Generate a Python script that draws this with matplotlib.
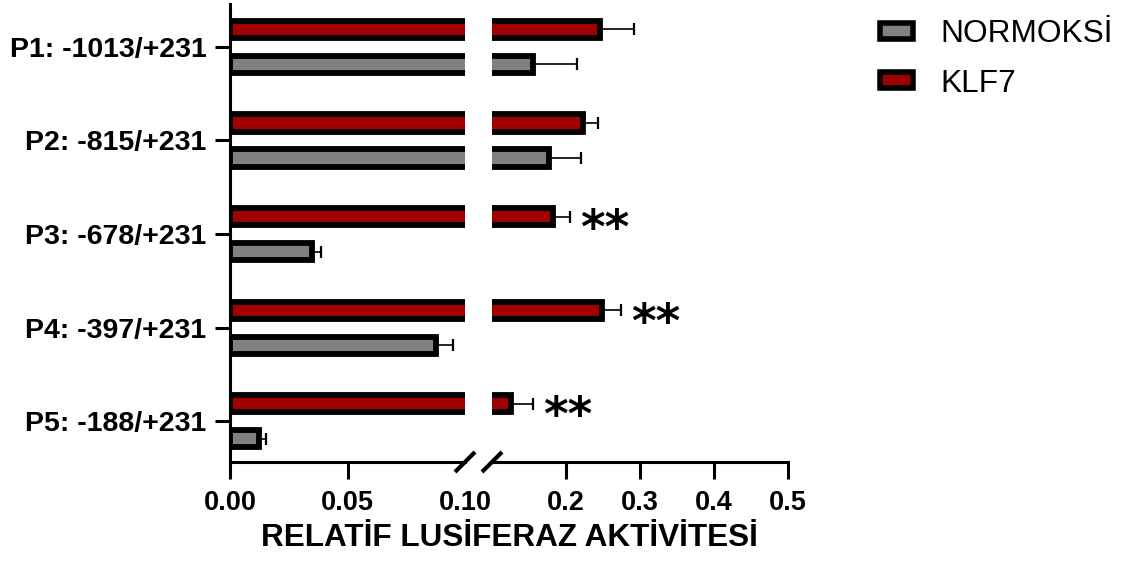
import matplotlib
matplotlib.use('Agg')
import matplotlib.pyplot as plt
from matplotlib.patches import Patch
import numpy as np

plt.rcParams['font.family'] = ['Liberation Sans', 'DejaVu Sans']

# ---------------- data ----------------
categories = ['P1: -1013/+231', 'P2: -815/+231', 'P3: -678/+231',
              'P4: -397/+231', 'P5: -188/+231']
normoksi = [0.155, 0.177, 0.0349, 0.0877, 0.0122]
normoksi_err = [0.060, 0.043, 0.004, 0.0072, 0.003]
klf7 = [0.246, 0.223, 0.182, 0.249, 0.126]
klf7_err = [0.046, 0.020, 0.023, 0.025, 0.029]
significance = ['', '', '**', '**', '**']
left_ticks = [0.00, 0.05, 0.10]
left_ticklabels = ['0.00', '0.05', '0.10']
right_ticks = [0.2, 0.3, 0.4, 0.5]
right_ticklabels = ['0.2', '0.3', '0.4', '0.5']
series_labels = ['NORMOKSİ', 'KLF7']
xlabel = 'RELATİF LUSİFERAZ AKTİVİTESİ'

# ---------------- style ----------------
RED = '#A00000'
GRAY = '#808080'
W, H = 1122, 563
fig = plt.figure(figsize=(W / 100, H / 100), dpi=100)

top_px, bot_px = 4, 462
axL = fig.add_axes([230 / W, 1 - bot_px / H, 235 / W, (bot_px - top_px) / H])
axR = fig.add_axes([492 / W, 1 - bot_px / H, 296 / W, (bot_px - top_px) / H])

y = np.arange(len(categories))
off = 0.187
bh = 0.183
klf7_a = np.array(klf7)
norm_a = np.array(normoksi)
XT = 19.5

for ax in (axL, axR):
    ax.barh(y - off, klf7_a, height=bh, color=RED, edgecolor='black', linewidth=4.2)
    ax.barh(y + off, norm_a, height=bh, color=GRAY, edgecolor='black', linewidth=4.2)
    ax.errorbar(klf7_a, y - off, xerr=[np.zeros(len(y)), klf7_err], fmt='none',
                ecolor='black', elinewidth=1.2, capsize=4, capthick=1.6)
    ax.errorbar(norm_a, y + off, xerr=[np.zeros(len(y)), normoksi_err], fmt='none',
                ecolor='black', elinewidth=1.2, capsize=4, capthick=1.6)
    ax.set_ylim(4.437, -0.459)
    for s in ('top', 'right'):
        ax.spines[s].set_visible(False)
    ax.spines['bottom'].set_linewidth(2.2)
    ax.spines['left'].set_linewidth(2.2)
    ax.tick_params(axis='x', length=12, width=2.2, pad=8.5, labelsize=XT)

axL.set_xlim(0, 0.10)
axR.set_xlim(0.10, 0.5)

axL.set_xticks(left_ticks)
axL.set_xticklabels(left_ticklabels, fontweight='bold', fontsize=XT)
axL.xaxis.get_major_ticks()[2].tick1line.set_visible(False)
axR.set_xticks(right_ticks)
axR.set_xticklabels(right_ticklabels, fontweight='bold', fontsize=XT)

axL.set_yticks(y)
axL.set_yticklabels(categories, fontweight='bold', fontsize=20.5)
axL.tick_params(axis='y', length=11, width=2.2, pad=6)
axR.spines['left'].set_visible(False)
axR.set_yticks([])

# significance stars
for yi, (v, e, s) in enumerate(zip(klf7, klf7_err, significance)):
    if s:
        axR.annotate(s, xy=(v + e, yi - off), xytext=(7.6, -19.3), textcoords='offset points',
                     ha='left', va='baseline', fontsize=34, fontweight='bold',
                     family='DejaVu Sans')

# axis break marks
dy = 10 / (bot_px - top_px)
axL.plot([1 - 10 / 235, 1 + 10 / 235], [-dy, dy], transform=axL.transAxes,
         color='black', lw=3, clip_on=False, solid_capstyle='butt')
axR.plot([-10 / 296, 10 / 296], [-dy, dy], transform=axR.transAxes,
         color='black', lw=3, clip_on=False, solid_capstyle='butt')

# x label
fig.text(509 / W, 1 - 538 / H, xlabel, ha='center', va='center',
         fontsize=22.7, fontweight='bold')

# legend
handles = [Patch(facecolor=GRAY, edgecolor='black', linewidth=4, label=series_labels[0]),
           Patch(facecolor=RED, edgecolor='black', linewidth=4, label=series_labels[1])]
fig.legend(handles=handles, loc='upper left', bbox_to_anchor=(880 / W, 1 - 19 / H),
           frameon=False, fontsize=22.8, handlelength=1.04, handleheight=0.41,
           handletextpad=0.87, labelspacing=0.62, borderpad=0, borderaxespad=0)

fig.savefig('out.png', dpi=100)
